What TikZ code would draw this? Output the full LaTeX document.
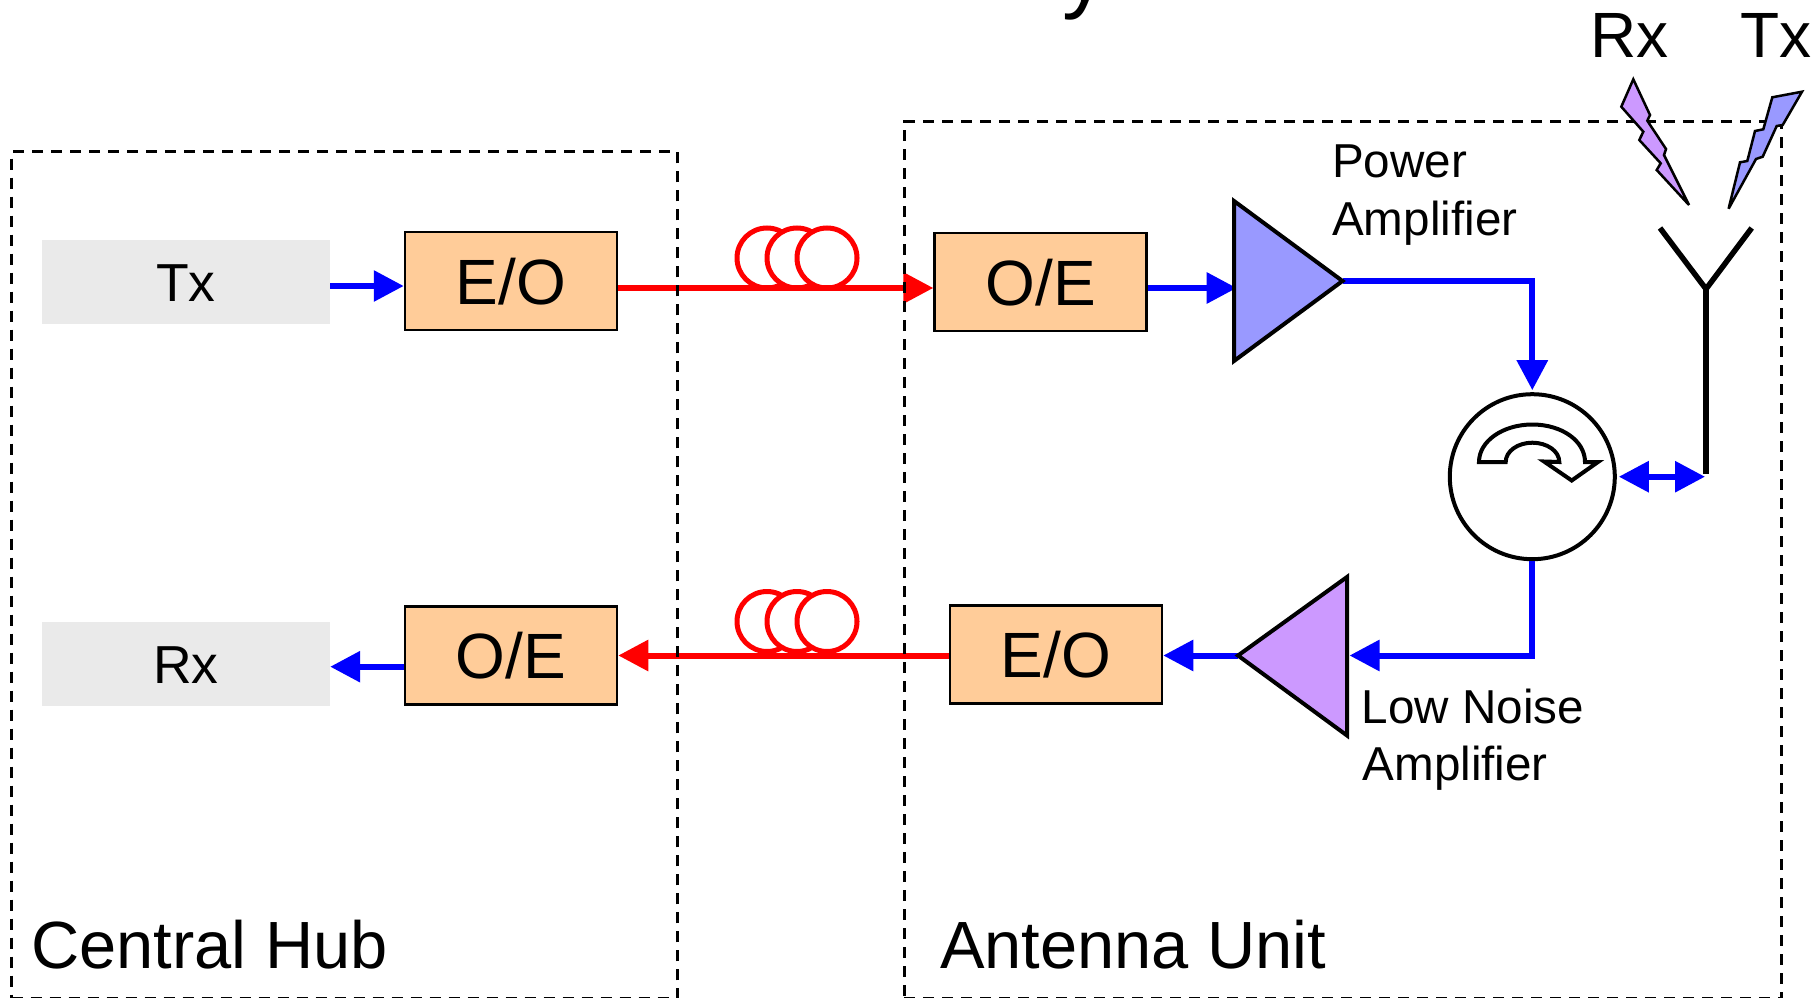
\documentclass[tikz,border=0pt]{standalone}
\usepackage{fontspec}
\setmainfont{Liberation Sans}
\usetikzlibrary{arrows.meta}
\definecolor{boxorange}{HTML}{FFCC99}
\definecolor{boxgrey}{HTML}{EAEAEA}
\definecolor{amppa}{HTML}{9999FF}
\definecolor{amplna}{HTML}{CC99FF}
\newcommand{\fsz}[2]{\fontsize{#1pt}{#2pt}\selectfont}
\tikzset{
  conv/.style={draw=black,line width=2.5pt,fill=boxorange,inner sep=0pt,minimum width=212pt,minimum height=98pt,text height=46pt,text depth=0pt,font=\fsz{64}{70}},
  sigbox/.style={fill=boxgrey,inner sep=0pt,minimum width=288pt,minimum height=84pt,text height=38pt,text depth=0pt,font=\fsz{53.5}{60}},
  unitbox/.style={draw=black,line width=3pt,dash pattern=on 11pt off 8pt,inner sep=0pt},
  bluearrow/.style={draw=blue,line width=6pt,-{Triangle[length=30pt,width=30pt]}},
  redarrow/.style={draw=red,line width=6pt,-{Triangle[length=30pt,width=30pt]}},
  coil/.style={circle,draw=red,fill=white,line width=5pt,minimum size=60pt,inner sep=0pt},
  amp/.style={draw=black,line width=4pt,line join=miter},
  bolt/.style={draw=black,line width=2.5pt,line join=miter,miter limit=4},
  caption/.style={anchor=base west,inner sep=0pt},
  small/.style={caption,font=\fsz{47.6}{58}},
  big/.style={caption,font=\fsz{66.8}{70}},
  ant/.style={draw=black,line width=5.5pt}
}
\begin{document}
\begin{tikzpicture}[x=1pt,y=-1pt]
\useasboundingbox (0,0) rectangle (1818,998);
\clip (0,0) rectangle (1818,998);
% blocks
\node[sigbox] (txb) at (186,282) {Tx};
\node[sigbox] (rxb) at (186,664) {Rx};
\node[conv] (eo1) at (511,281) {E/O};
\node[conv] (oe2) at (511,655.5) {O/E};
\node[conv] (oe1) at (1040.6,282) {O/E};
\node[conv] (eo2) at (1056,654.5) {E/O};
% fibre coils
\node[coil] (c1) at (767,258) {};
\node[coil] (c2) at (797,258) {};
\node[coil] (c3) at (827,258) {};
\node[coil] (c4) at (767,621.5) {};
\node[coil] (c5) at (797,621.5) {};
\node[coil] (c6) at (827,621.5) {};
% amplifiers
\coordinate (patop) at (1234,201);
\coordinate (pabot) at (1234,361);
\coordinate (patip) at (1342.5,281);
\coordinate (pain) at (1236.7,288);
\coordinate (paout) at (1343,280.5);
\coordinate (lnatip) at (1238,655.5);
\coordinate (lnatop) at (1347,577);
\coordinate (lnabot) at (1347,735.5);
\coordinate (lnain) at (1349.5,655.5);
% circulator
\node[circle,draw=black,line width=4pt,minimum size=165pt,inner sep=0pt] (circ) at (1532.3,476.7) {};
% connectors
\draw[redarrow] ([yshift=-7pt]eo1.east) -- ([yshift=-6pt]oe1.west);
\draw[redarrow] ([yshift=-1pt]eo2.west) -- (oe2.east);
\draw[bluearrow] ([yshift=-4pt]txb.east) -- ([yshift=-5pt]eo1.west);
\draw[bluearrow] ([yshift=-11.2pt]oe2.west) -- ([yshift=-2.7pt]rxb.east);
\draw[bluearrow] ([yshift=-6pt]oe1.east) -- (pain);
\draw[bluearrow] (paout) -| ([yshift=2pt]circ.north);
\draw[bluearrow] (circ.south) |- (lnain);
\draw[bluearrow] (lnatip) -- ([yshift=-1pt]eo2.east);
% amplifier triangles
\draw[amp,fill=amppa] (patop) -- (patip) -- (pabot) -- cycle;
\draw[amp,fill=amplna] (lnatop) -- (lnatip) -- (lnabot) -- cycle;
% circulator arrow
\draw[amp,fill=white] (1479,462) .. controls (1479,441) and (1503,424.5) .. (1532.3,424.5)
  .. controls (1562,424.5) and (1585,441) .. (1585,462)
  -- (1598,462) -- (1571.7,480.5) -- (1544,461.5) -- (1559.3,462)
  .. controls (1559.3,451) and (1547,442.7) .. (1532.3,442.7)
  .. controls (1518,442.7) and (1505.7,451) .. (1505.7,462) -- cycle;
% antenna
\coordinate (antj) at (1706,289);
\coordinate (antb) at (1706,474);
\coordinate (antl) at (1660,228);
\coordinate (antr) at (1751.7,228);
\coordinate (antfeed) at (1705,476.7);
\draw[ant] (antl) -- (antj) -- (antr);
\draw[ant] (antj) -- (antb);
\draw[draw=blue,line width=6pt,{Triangle[length=30pt,width=30pt]}-{Triangle[length=30pt,width=30pt]}] ([xshift=2pt]circ.east) -- (antfeed);
% unit frames
\node[unitbox,minimum width=665.5pt,minimum height=847.1pt] (hub) at (344.3,575.25) {};
\node[unitbox,minimum width=877.7pt,minimum height=877.1pt] (unit) at (1342.85,560.25) {};
% bolts
\draw[bolt,fill=amplna] (1633.3,79.3) -- (1650,115) -- (1647.3,120.7) -- (1666,149) -- (1664,155) -- (1689,205) -- (1656.7,170) -- (1660.7,163.3) -- (1639.3,140) -- (1643.3,131.7) -- (1621.3,106.7) -- cycle;
\draw[bolt,fill=amppa] (1802,91.7) -- (1782.7,125) -- (1776.7,126) -- (1762.7,156.7) -- (1756,159) -- (1728.6,208.7) -- (1740,162.3) -- (1747.3,161) -- (1755,131) -- (1763.3,129.3) -- (1772.3,97.3) -- cycle;
% labels
\node[caption,font=\fsz{64}{70}] (lrx) at (1590,57.3) {Rx};
\node[caption,font=\fsz{64}{70}] (ltx) at (1740,57.3) {Tx};
\node[small] (lpa1) at (1332,177) {Power};
\node[small] (lpa2) at (1332,235.5) {Amplifier};
\node[small] (llna1) at (1361.5,723.7) {Low Noise};
\node[small] (llna2) at (1362.5,780) {Amplifier};
\node[big] (lhub) at (31,968) {Central Hub};
\node[big] (lunit) at (940,968) {Antenna Unit};
\node[caption,font=\fsz{90}{90}] (ltitle) at (1062,2) {y};
\end{tikzpicture}
\end{document}
